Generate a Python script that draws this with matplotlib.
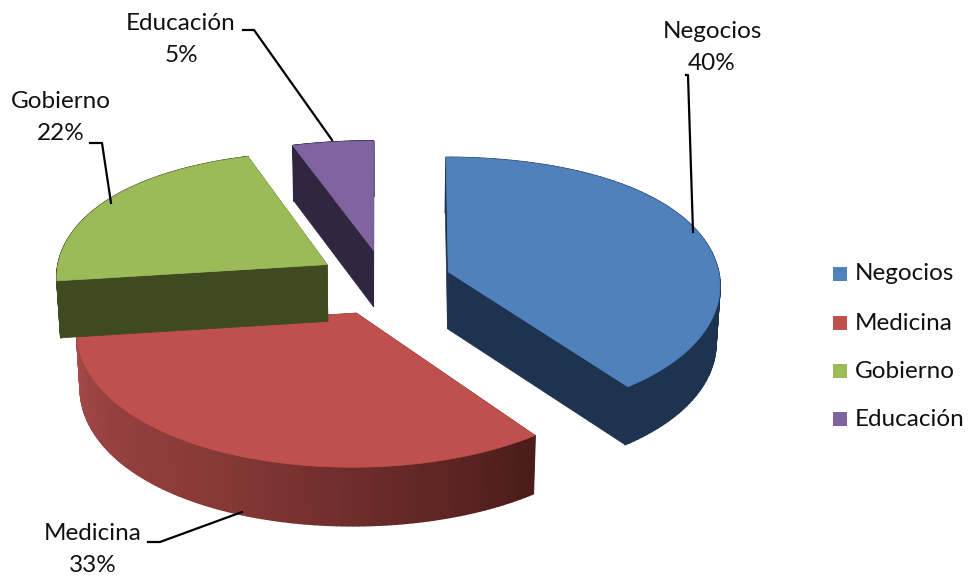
import numpy as np
import matplotlib
matplotlib.use('Agg')
import matplotlib.pyplot as plt
from matplotlib.collections import PolyCollection
from matplotlib.colors import to_rgb

plt.rcParams['font.family'] = ['Lato', 'DejaVu Sans']

categories = ['Negocios', 'Medicina', 'Gobierno', 'Educación']
values = [40, 33, 22, 5]
top_colors = ['#4f81bd', '#c0504d', '#9bbb59', '#8064a2']
side_colors = ['#1e3350', '#4b1c1a', '#3f4a21', '#31263f']

# pie geometry in pixels
cx, cy = 384, 282
rx, ry = 272, 132
depth = 57
explode = 0.25


def project(x, y, z=0.0):
    # rough perspective, the near side of the disc is drawn bigger
    kx = 1 - 0.085 * y + 0.045 * y ** 2
    ky = 1 - 0.115 * y
    shrink = 1 - 0.012 * z
    return np.column_stack([cx + rx * x * kx * shrink, cy - ry * y * ky + depth * ky ** 0.2 * z])


def side_quads(pts_top, pts_bot):
    return [[pts_top[i], pts_top[i + 1], pts_bot[i + 1], pts_bot[i]] for i in range(len(pts_top) - 1)]


fig = plt.figure(figsize=(9.72, 5.78), dpi=100)
ax = fig.add_axes([0, 0, 1, 1])
ax.set_xlim(0, 972)
ax.set_ylim(578, 0)
ax.axis('off')

# angles clockwise from twelve o'clock
edges = np.cumsum([0] + values) / sum(values) * 2 * np.pi
slices = {}
for i in range(len(values)):
    a0, a1 = edges[i], edges[i + 1]
    mid = (a0 + a1) / 2
    ox, oy = explode * np.sin(mid), explode * np.cos(mid)
    t = np.linspace(a0, a1, 120)
    slices[i] = (t, ox + np.sin(t), oy + np.cos(t), ox, oy)

# back to front so red sits over the green wall
for i in [3, 2, 0, 1]:
    t, arc_x, arc_y, ox, oy = slices[i]
    apex_top = project(np.array([ox]), np.array([oy]), 0)
    apex_bot = project(np.array([ox]), np.array([oy]), 1)
    arc_top = project(arc_x, arc_y, 0)
    arc_bot = project(arc_x, arc_y, 1)
    dark = side_colors[i]
    # the two radial walls
    for end in [0, -1]:
        ax.fill([apex_top[0, 0], arc_top[end, 0], arc_bot[end, 0], apex_bot[0, 0]],
                [apex_top[0, 1], arc_top[end, 1], arc_bot[end, 1], apex_bot[0, 1]],
                color=dark, lw=0.5, zorder=i)
    # outer wall, the red one has a light to dark gradient
    if categories[i] == 'Medicina':
        light = np.array(to_rgb('#a5494a'))
        mid_c = np.array(to_rgb('#853836'))
        deep = np.array(to_rgb(dark))
        u = np.linspace(0, 1, len(t) - 1)
        cols = [light * (2 * v - 1) + mid_c * (2 - 2 * v) if v > 0.5 else mid_c * 2 * v + deep * (1 - 2 * v) for v in u]
    else:
        cols = [dark] * (len(t) - 1)
    ax.add_collection(PolyCollection(side_quads(arc_top, arc_bot), facecolors=cols, edgecolors=cols, linewidths=1.2, zorder=i))
    poly = np.vstack([apex_top, arc_top])
    ax.fill(poly[:, 0], poly[:, 1], color=top_colors[i], lw=0.5, zorder=i + 0.5)

# data labels
label_pos = [(712, 31), (93, 533), (61, 102), (181, 23)]
leaders = [
    ([686, 688, 693], [75, 75, 232]),
    ([148, 160, 242], [542, 542, 512]),
    ([90, 102, 111], [143, 143, 203]),
    ([243, 254, 332], [30, 30, 140]),
]
for name, val, (lx, ly), (px, py) in zip(categories, values, label_pos, leaders):
    ax.text(lx, ly, name, fontsize=17.5, color='#111111', ha='center', va='center', zorder=10)
    ax.text(lx, ly + 32, f'{val}%', fontsize=17.5, color='#111111', ha='center', va='center', zorder=10)
    ax.plot(px, py, color='black', lw=1.6, zorder=9, solid_joinstyle='round')

# legend
legend_y = [274, 323, 371, 419]
for name, col, ly in zip(categories, top_colors, legend_y):
    ax.fill([833, 847, 847, 833], [ly - 7, ly - 7, ly + 7, ly + 7], color=col, lw=0)
    ax.text(855, ly, name, fontsize=17.5, color='#111111', ha='left', va='center')

fig.savefig('out.png', dpi=100)
